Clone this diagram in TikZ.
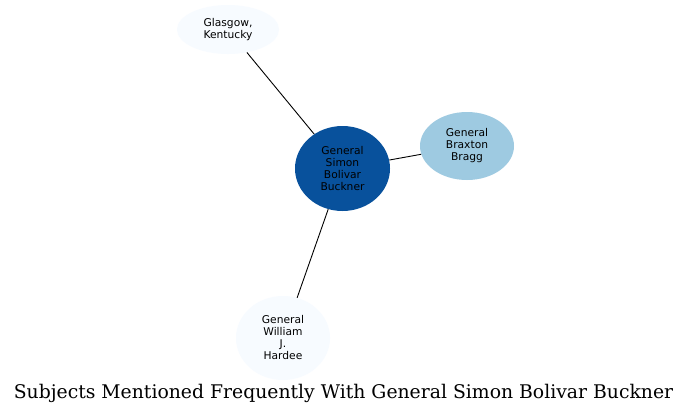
\documentclass[tikz,border=0pt]{standalone}
\usepackage{fontspec}
\newfontfamily\nodefont{DejaVu Sans}
\newfontfamily\titlefont{DejaVu Serif}
\usetikzlibrary{shapes.geometric}
\definecolor{palefill}{HTML}{F7FBFF}
\definecolor{darkfill}{HTML}{08519C}
\definecolor{midfill}{HTML}{9ECAE1}
\tikzset{
  ent/.style={ellipse, draw=none, inner sep=0pt, align=center,
    font=\nodefont\fontsize{10.7}{12}\selectfont},
  link/.style={draw=black, line width=0.9pt},
  titletext/.style={inner sep=0pt, font=\titlefont\fontsize{18.8}{22}\selectfont}
}
\begin{document}
\begin{tikzpicture}[x=1pt,y=-1pt]
\useasboundingbox[fill=white] (0,0) rectangle (691,415);
\node[ent, fill=palefill, minimum width=102pt, minimum height=49pt] (glasgow) at (228,29.5) {Glasgow,\\Kentucky};
\node[ent, fill=darkfill, minimum width=95pt, minimum height=85pt] (buckner) at (342.5,168.5) {General\\Simon\\Bolivar\\Buckner};
\node[ent, fill=midfill, minimum width=94pt, minimum height=68pt] (bragg) at (467,146) {General\\Braxton\\Bragg};
\node[ent, fill=palefill, minimum width=94pt, minimum height=84pt] (hardee) at (283,338) {General\\William\\J.\\Hardee};
\draw[link] (glasgow) -- (buckner);
\draw[link] (buckner) -- (bragg);
\draw[link] (buckner) -- (hardee);
\node[titletext, anchor=base] (title) at (343.5,398) {Subjects Mentioned Frequently With General Simon Bolivar Buckner};
\end{tikzpicture}
\end{document}
